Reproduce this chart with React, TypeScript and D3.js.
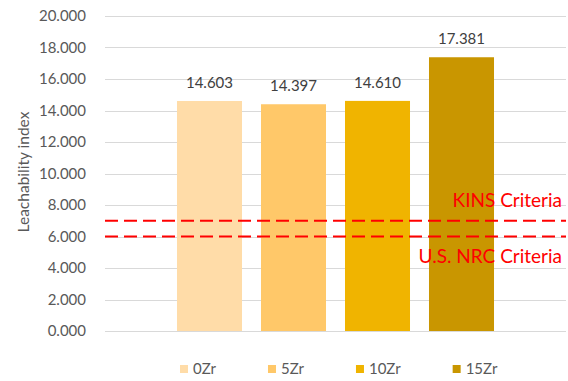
import React, { useEffect, useRef } from "react";
import * as d3 from "d3";

const categories = ["0Zr", "5Zr", "10Zr", "15Zr"];
const values = [14.603, 14.397, 14.61, 17.381];
const colors = ["#FFDCA8", "#FFC869", "#F0B400", "#C99600"];
const yTicks = [0, 2, 4, 6, 8, 10, 12, 14, 16, 18, 20];
const criteria = [
  { name: "KINS Criteria", value: 7 },
  { name: "U.S. NRC Criteria", value: 6 },
];
const yTitle = "Leachability index";

const W = 568;
const H = 381;
const FONT = "Lato, 'Liberation Sans', sans-serif";

export default function App() {
  const ref = useRef<SVGSVGElement>(null);

  useEffect(() => {
    const svg = d3.select(ref.current);
    svg.selectAll("*").remove();

    const left = 105;
    const right = 566;
    const top = 16;
    const bottom = 331;

    const y = d3.scaleLinear().domain([0, 20]).range([bottom, top]);
    const x0 = d3.scaleBand().domain(["all"]).range([left, right]).paddingInner(0).paddingOuter(0.186);
    const x1 = d3
      .scaleBand()
      .domain(categories)
      .range([x0("all")!, x0("all")! + x0.bandwidth()])
      .paddingInner(0.226)
      .paddingOuter(0.113);

    // gridlines
    svg
      .append("g")
      .selectAll("line")
      .data(yTicks)
      .join("line")
      .attr("x1", left)
      .attr("x2", right)
      .attr("y1", (d) => Math.round(y(d)) + 0.5)
      .attr("y2", (d) => Math.round(y(d)) + 0.5)
      .attr("stroke", "#D9D9D9")
      .attr("stroke-width", 1);

    // tick labels
    svg
      .append("g")
      .selectAll("text")
      .data(yTicks)
      .join("text")
      .attr("x", 86)
      .attr("y", (d) => y(d))
      .attr("dy", "0.35em")
      .attr("text-anchor", "end")
      .attr("font-family", FONT)
      .attr("font-size", 15)
      .attr("fill", "#595959")
      .text((d) => d3.format(".3f")(d));

    // y title
    svg
      .append("text")
      .attr("transform", `translate(29,172) rotate(-90)`)
      .attr("text-anchor", "middle")
      .attr("font-family", FONT)
      .attr("font-size", 15.5)
      .attr("fill", "#595959")
      .text(yTitle);

    // bars
    svg
      .append("g")
      .selectAll("rect")
      .data(categories)
      .join("rect")
      .attr("x", (d) => x1(d)!)
      .attr("width", x1.bandwidth())
      .attr("y", (_, i) => y(values[i]))
      .attr("height", (_, i) => bottom - y(values[i]))
      .attr("fill", (_, i) => colors[i]);

    // data labels
    svg
      .append("g")
      .selectAll("text")
      .data(categories)
      .join("text")
      .attr("x", (d) => x1(d)! + x1.bandwidth() / 2)
      .attr("y", (_, i) => y(values[i]) - 13)
      .attr("text-anchor", "middle")
      .attr("font-family", FONT)
      .attr("font-size", 15)
      .attr("fill", "#404040")
      .text((_, i) => d3.format(".3f")(values[i]));

    // criteria lines
    svg
      .append("g")
      .selectAll("line")
      .data(criteria)
      .join("line")
      .attr("x1", left)
      .attr("x2", right)
      .attr("y1", (d) => y(d.value))
      .attr("y2", (d) => y(d.value))
      .attr("stroke", "#FF0000")
      .attr("stroke-width", 2)
      .attr("stroke-dasharray", "13,6");

    // criteria labels
    svg
      .append("g")
      .selectAll("text")
      .data(criteria)
      .join("text")
      .attr("x", 562)
      .attr("y", (d, i) => (i === 0 ? y(d.value) - 14 : y(d.value) + 26))
      .attr("text-anchor", "end")
      .attr("font-family", FONT)
      .attr("font-size", 19)
      .attr("fill", "#FF0000")
      .text((d) => d.name);

    // legend
    const lg = svg.append("g");
    let lx = 180;
    const ly = 369;
    categories.forEach((c, i) => {
      lg.append("rect")
        .attr("x", lx)
        .attr("y", ly - 4)
        .attr("width", 8)
        .attr("height", 8)
        .attr("fill", colors[i]);
      const t = lg
        .append("text")
        .attr("x", lx + 13)
        .attr("y", ly)
        .attr("dy", "0.35em")
        .attr("font-family", FONT)
        .attr("font-size", 15)
        .attr("fill", "#595959")
        .text(c);
      const w = (t.node() as SVGTextElement).getComputedTextLength();
      lx += w + 65;
    });
  }, []);

  return (
    <svg
      ref={ref}
      width={W}
      height={H}
      style={{ position: "absolute", left: 0, top: 0, background: "#fff" }}
    />
  );
}
